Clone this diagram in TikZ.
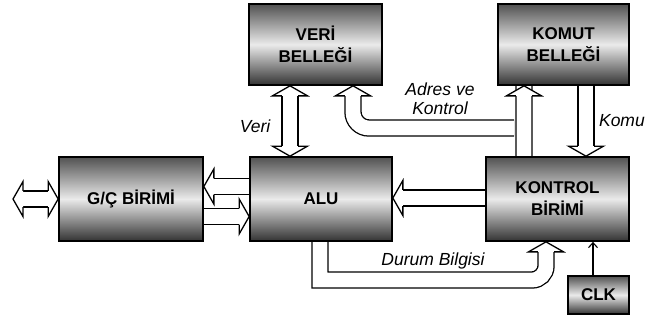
\documentclass[tikz,border=0pt]{standalone}
\usepackage{fontspec}
\setmainfont{Liberation Sans}
\usetikzlibrary{arrows.meta,positioning,calc,backgrounds}
\newcommand{\okbasi}[2]{\filldraw[fill=white,line width=1.3pt,line join=miter,shift={(#1)},rotate=#2] (-10,-8.1) -- (-10,-17.5) -- (0,0) -- (-10,17.5) -- (-10,8.1);}

\begin{document}
\begin{tikzpicture}[x=1pt,y=-1pt,blok/.style={draw,line width=1.7pt,top color=black!68,bottom color=black!80,middle color=black!8,align=center,font=\bfseries\fontsize{17}{22}\selectfont},kalin/.style={draw=black,line width=1.3pt,double=white,double distance=14.8pt},yazi/.style={font=\itshape\fontsize{17.5}{19}\selectfont,align=center}]
      \useasboundingbox (0,0) rectangle (649,322);
      \node[blok,minimum width=133,minimum height=81] (veri) at (315.5,44.5) {VERİ\\BELLEĞİ}; \node[blok,minimum width=131,minimum height=81] (komut) at (563.5,44.5) {KOMUT\\BELLEĞİ};
      \node[blok,minimum width=144,minimum height=84] (gc) at (131,199) {G/Ç BİRİMİ}; \node[blok,minimum width=142,minimum height=84] (alu) at (321,199) {ALU}; \node[blok,minimum width=143,minimum height=84] (kontrol) at (557.5,199) {KONTROL\\BİRİMİ};
      \node[blok,minimum width=61,minimum height=38] (clk) at (598.5,295) {CLK};
      \node[yazi] (lveri) at (255,126) {Veri}; \node[yazi] (ladres) at (440,99) {Adres ve\\Kontrol}; \node[yazi,anchor=east,inner sep=1pt] (lkomut) at (646,121) {Komu}; \node[yazi] (ldurum) at (433,261) {Durum Bilgisi};
      \begin{scope}[on background layer]
      \coordinate (v1) at (veri.south -| 290,0); \coordinate (v2) at (alu.north -| 290,0); \coordinate (d1) at (13,199);
      \draw[kalin,shorten <=10pt,shorten >=10pt] (v1) -- (v2); \okbasi{v1}{90} \okbasi{v2}{-90}
      \draw[kalin,shorten <=10pt,shorten >=10pt] (d1) -- (gc.west); \okbasi{d1}{180} \okbasi{gc.west}{0}
      \coordinate (g1) at (gc.east |- 0,186.5); \coordinate (g2) at (alu.west |- 0,186.5); \coordinate (g3) at (gc.east |- 0,216.5); \coordinate (g4) at (alu.west |- 0,216.5);
      \draw[kalin,shorten >=10pt] (g2) -- (g1); \okbasi{g1}{180} \draw[kalin,shorten >=10pt] (g3) -- (g4); \okbasi{g4}{0}
      \coordinate (k1) at (kontrol.west |- 0,198); \coordinate (k2) at (alu.east |- 0,198);
      \draw[kalin,shorten >=10pt] (k1) -- (k2); \okbasi{k2}{180}
      \coordinate (m1) at (komut.south -| 586,0); \coordinate (m2) at (kontrol.north -| 586,0);
      \draw[kalin,shorten >=10pt] (m1) -- (m2); \okbasi{m2}{-90}
      \coordinate (a1) at (komut.south -| 524,0); \coordinate (a2) at (kontrol.north -| 524,0); \coordinate (a3) at (veri.south -| 353,0);
      \draw[kalin,shorten <=10pt,shorten >=10pt,rounded corners=16] (a1) -- (a2) (a1 |- 0,128) -- (a3 |- 0,128) -- (a3); \okbasi{a1}{90} \okbasi{a3}{90}
      \coordinate (b1) at (alu.south -| 320,0); \coordinate (b2) at (kontrol.south -| 546,0);
      \draw[kalin,shorten >=10pt] (b1) -- (b1 |- 0,280) [rounded corners=14] -- (b2 |- 0,280) -- (b2); \okbasi{b2}{90}
      \end{scope}
      \draw[-{Straight Barb[length=5pt,width=9pt]},line width=1.1pt] (clk.north -| 593,0) -- (kontrol.south -| 593,0);
    \end{tikzpicture}
\end{document}
